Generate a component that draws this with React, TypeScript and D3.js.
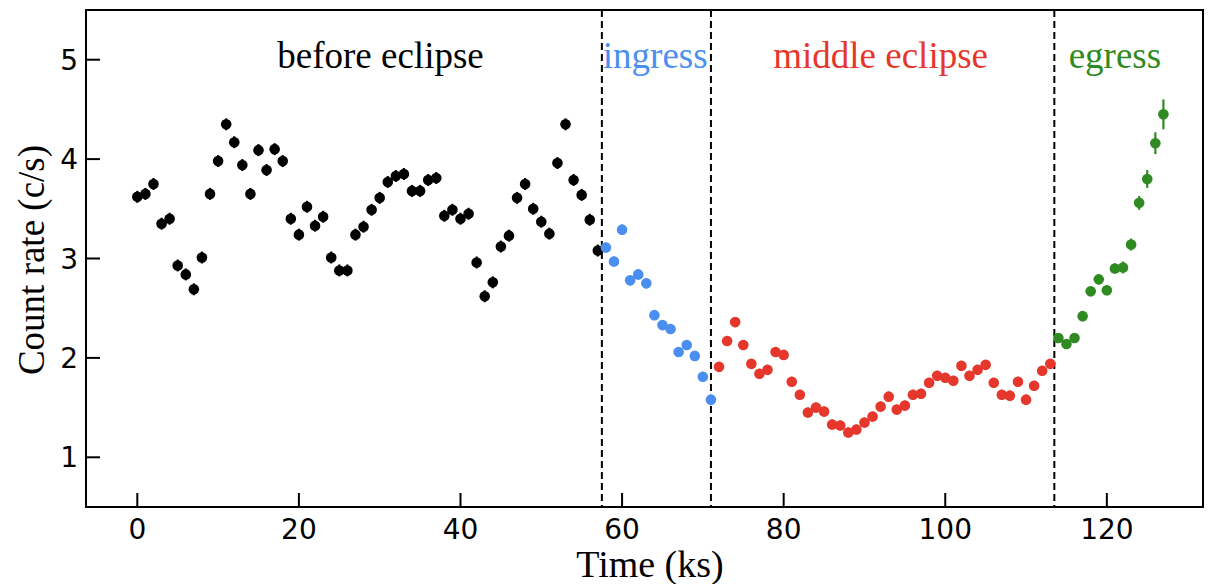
import React from 'react';
import * as d3 from 'd3';

// light curve, 1 ks bins
const beforeRate = [
  3.62, 3.65, 3.75, 3.35, 3.40, 2.93, 2.84, 2.69, 3.01, 3.65,
  3.98, 4.35, 4.17, 3.94, 3.65, 4.09, 3.89, 4.10, 3.98, 3.40,
  3.24, 3.52, 3.33, 3.42, 3.01, 2.88, 2.88, 3.24, 3.32, 3.49,
  3.61, 3.77, 3.83, 3.85, 3.68, 3.68, 3.79, 3.81, 3.43, 3.49,
  3.40, 3.45, 2.96, 2.62, 2.76, 3.12, 3.23, 3.61, 3.75, 3.50,
  3.37, 3.25, 3.96, 4.35, 3.79, 3.64, 3.39, 3.08,
];
const ingressRate = [3.11, 2.97, 3.29, 2.78, 2.84, 2.75, 2.43, 2.33, 2.29, 2.06, 2.13, 2.02, 1.81, 1.58];
const middleRate = [
  1.91, 2.17, 2.36, 2.13, 1.94, 1.84, 1.88, 2.06, 2.03, 1.76,
  1.63, 1.45, 1.50, 1.46, 1.33, 1.32, 1.25, 1.28, 1.35, 1.41,
  1.51, 1.61, 1.48, 1.52, 1.63, 1.64, 1.75, 1.82, 1.80, 1.77,
  1.92, 1.82, 1.88, 1.93, 1.75, 1.63, 1.62, 1.76, 1.58, 1.72,
  1.87, 1.94,
];
const egressRate = [2.20, 2.14, 2.20, 2.42, 2.67, 2.79, 2.68, 2.90, 2.91, 3.14, 3.56, 3.80, 4.16, 4.45];
const egressErr = [0.05, 0.05, 0.05, 0.05, 0.05, 0.05, 0.05, 0.05, 0.06, 0.06, 0.07, 0.09, 0.11, 0.15];

const segmentStarts = [0, 58, 72, 114];
const boundaries = [57.5, 71, 113.5];
const segmentNames = ['before eclipse', 'ingress', 'middle eclipse', 'egress'];
const segmentLabelX = [30.1, 64.1, 92.0, 121.0];
const segmentColors = ['#000000', '#4a8ff0', '#e5372b', '#2f8a22'];

const xTicks = [0, 20, 40, 60, 80, 100, 120];
const yTicks = [1, 2, 3, 4, 5];

const W = 1213;
const H = 584;
const left = 86, right = 1203, top = 10, bottom = 507;

export default function App() {
  const x = d3.scaleLinear().domain([-6.35, 131.9]).range([left, right]);
  const y = d3.scaleLinear().domain([0.5, 5.5]).range([bottom, top]);

  const series = [beforeRate, ingressRate, middleRate, egressRate].map((rates, si) =>
    rates.map((r, i) => ({
      t: segmentStarts[si] + i,
      r,
      e: si === 3 ? egressErr[i] : si === 0 ? 0.06 : 0.05,
    }))
  );

  const serif = '"Liberation Serif", "Times New Roman", serif';
  const sans = '"DejaVu Sans", sans-serif';

  return (
    <svg width={W} height={H} style={{ position: 'absolute', left: 0, top: 0, background: '#fff' }}>
      {/* boundaries */}
      {boundaries.map((b) => (
        <line key={b} x1={x(b)} x2={x(b)} y1={top} y2={bottom}
          stroke="#000" strokeWidth={2} strokeDasharray="7,4" />
      ))}

      {/* points with error bars */}
      {series.map((pts, si) => (
        <g key={si} fill={segmentColors[si]} stroke={segmentColors[si]}>
          {pts.map((p) => (
            <g key={p.t}>
              <line x1={x(p.t)} x2={x(p.t)} y1={y(p.r - p.e)} y2={y(p.r + p.e)} strokeWidth={2.2} />
              <circle cx={x(p.t)} cy={y(p.r)} r={5.3} stroke="none" />
            </g>
          ))}
        </g>
      ))}

      {/* segment labels */}
      {segmentNames.map((n, i) => (
        <text key={n} x={x(segmentLabelX[i])} y={68} textAnchor="middle"
          fontFamily={serif} fontSize={37} fill={segmentColors[i]}>{n}</text>
      ))}

      {/* frame */}
      <rect x={left} y={top} width={right - left} height={bottom - top}
        fill="none" stroke="#000" strokeWidth={2} />

      {/* x ticks */}
      {xTicks.map((t) => (
        <g key={t}>
          <line x1={x(t)} x2={x(t)} y1={bottom} y2={bottom - 14} stroke="#000" strokeWidth={2} />
          <text x={x(t)} y={539} textAnchor="middle" fontFamily={sans} fontSize={28}>{t}</text>
        </g>
      ))}

      {/* y ticks */}
      {yTicks.map((t) => (
        <g key={t}>
          <line x1={left} x2={left + 14} y1={y(t)} y2={y(t)} stroke="#000" strokeWidth={2} />
          <text x={78} y={y(t) + 10} textAnchor="end" fontFamily={sans} fontSize={28}>{t}</text>
        </g>
      ))}

      <text x={650} y={577} textAnchor="middle" fontFamily={serif} fontSize={38}>Time (ks)</text>
      <text transform={`translate(44,260) rotate(-90)`} textAnchor="middle"
        fontFamily={serif} fontSize={37}>Count rate (c/s)</text>
    </svg>
  );
}
